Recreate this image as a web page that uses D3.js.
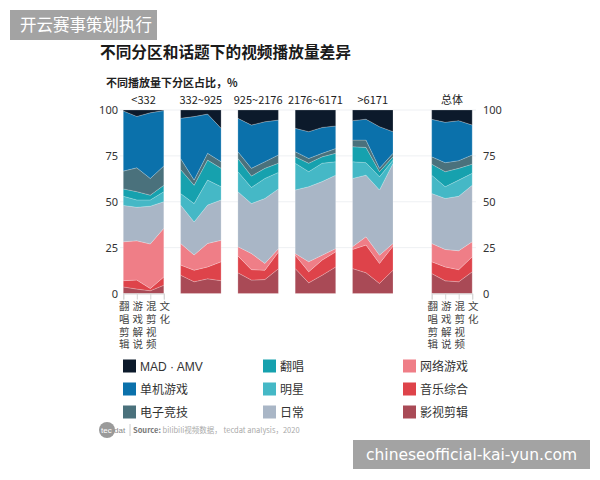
<!DOCTYPE html>
<html>
<head>
<meta charset="utf-8">
<script src="https://cdn.jsdelivr.net/npm/d3@7"></script>
<style>
  body { margin: 0; background: #fff; }
  text { font-family: "Noto Sans CJK SC", "Noto Sans", sans-serif; }
</style>
</head>
<body>
<div id="chart"></div>
<script>
// series, bottom to top
const seriesNames = ["影视剪辑", "音乐综合", "网络游戏", "日常", "明星", "翻唱", "电子竞技", "单机游戏", "MAD · AMV"];
const seriesColors = ["#a94a56", "#de434a", "#ef7e87", "#a9b6c6", "#45b8c6", "#16a1ae", "#4a717c", "#0b71ab", "#0c1a2b"];
const categories = ["翻唱剪辑", "游戏解说", "混剪视频", "文化"];
const panelTitles = ["<332", "332~925", "925~2176", "2176~6171", ">6171", "总体"];
const yTicks = [0, 25, 50, 75, 100];

// each row = one series (bottom to top), columns = categories
const panelLt332 = [
    [3.6, 2.4, 1.5, 4.5],
    [3.4, 4.9, 1.2, 4.5],
    [21.2, 21.4, 24.3, 26.5],
    [19.8, 18.3, 20.6, 14.5],
    [5, 4, 3.4, 5.5],
    [4, 4.5, 2.6, 3.5],
    [9.7, 13, 9.1, 10.5],
    [32.8, 28, 35.8, 30.2],
    [0.5, 3.5, 1.5, 0.3]
];
const panel332 = [
    [10, 6.4, 8, 7],
    [5.5, 6.3, 6.5, 10.3],
    [11.8, 8.3, 12.8, 11.7],
    [20.9, 18, 20.9, 22],
    [6.3, 10, 13.6, 7.2],
    [13.1, 10, 10.9, 10],
    [6, 2.8, 3.7, 3.6],
    [21.9, 34.6, 21.4, 18.2],
    [4.5, 3.6, 2.2, 10]
];
const panel925 = [
    [11.3, 7.3, 7.6, 13.5],
    [9.2, 5.7, 5.1, 9.1],
    [5, 8.8, 3.7, 1.8],
    [30, 27.2, 35.4, 32.6],
    [10.9, 8.8, 10.9, 9],
    [7.2, 6.2, 5.5, 5],
    [3.7, 4.2, 3.6, 4.5],
    [18.2, 23.6, 21.8, 19],
    [4.5, 8.2, 6.4, 5.5]
];
const panel2176 = [
    [13.6, 5.8, 10, 14.5],
    [7.3, 6, 8.2, 8.2],
    [0.9, 5.5, 2.7, 1.8],
    [34.6, 40.9, 40.1, 40],
    [14.6, 8.2, 10, 7.3],
    [3.5, 4.6, 3.5, 4.6],
    [2.8, 2.6, 1.9, 2.6],
    [12.7, 14.6, 14.1, 12.3],
    [10, 11.8, 9.5, 8.7]
];
const panelGt6171 = [
    [13.6, 11.3, 5.5, 12.7],
    [10.4, 15.1, 10.9, 13.1],
    [1.5, 4.5, 4.5, 1.5],
    [37.2, 33.6, 35.5, 43.6],
    [9.1, 6.8, 7.2, 1.8],
    [8.2, 8.3, 2.8, 1.8],
    [3.6, 4, 1.8, 1.9],
    [10.6, 11.4, 22.7, 11.8],
    [5.8, 5, 9.1, 11.8]
];
const panelTotal = [
    [10.9, 6.9, 6.4, 11.8],
    [6.4, 7.6, 6.6, 8.2],
    [10, 9.5, 10.3, 8.2],
    [27.2, 27.8, 29.7, 30.8],
    [10, 6.4, 8.8, 6.5],
    [6, 8.2, 6.4, 5],
    [4, 4.9, 4.2, 5],
    [20.4, 22, 21.8, 16.3],
    [5.1, 6.7, 5.8, 8.2]
];
const panels = [panelLt332, panel332, panel925, panel2176, panelGt6171, panelTotal];

const width = 600, height = 480;
const svg = d3.select("#chart").append("svg")
    .attr("width", width)
    .attr("height", height);

// layout
const panelLeft = [123.3, 180.6, 237.9, 295.2, 352.5, 431.7];
const panelWidth = 40.5;
const y = d3.scaleLinear().domain([0, 100]).range([293.5, 110]);

// title + subtitle
svg.append("text")
    .attr("x", 100).attr("y", 58)
    .attr("font-size", 15.7).attr("font-weight", 600).attr("fill", "#1a1a1a")
    .text("不同分区和话题下的视频播放量差异");
svg.append("text")
    .attr("x", 106).attr("y", 87)
    .attr("font-size", 11).attr("font-weight", "bold").attr("fill", "#222")
    .text("不同播放量下分区占比，%");

// faint gridlines
svg.append("g").selectAll("line")
    .data(yTicks.slice(1))
    .enter().append("line")
    .attr("x1", 120).attr("x2", 476)
    .attr("y1", d => y(d)).attr("y2", d => y(d))
    .attr("stroke", "#eef0f3").attr("stroke-width", 1);

// y axes
const yLeft = svg.append("g")
    .attr("transform", "translate(118,0)")
    .call(d3.axisLeft(y).tickValues(yTicks).tickSize(0).tickPadding(0));
const yRight = svg.append("g")
    .attr("transform", "translate(483,0)")
    .call(d3.axisRight(y).tickValues(yTicks).tickSize(0).tickPadding(0));
[yLeft, yRight].forEach(g => {
    g.select(".domain").remove();
    g.selectAll("text")
        .attr("font-size", 11)
        .attr("fill", "#333")
        .style("font-family", "'Noto Sans', sans-serif");
});

const stack = d3.stack().keys(d3.range(seriesNames.length));

panels.forEach((rows, p) => {
    const x = d3.scalePoint()
        .domain(categories)
        .range([panelLeft[p], panelLeft[p] + panelWidth]);

    const table = categories.map((c, i) => {
        const o = {cat: c};
        rows.forEach((r, s) => { o[s] = r[i]; });
        return o;
    });
    const stacked = stack(table);

    const area = d3.area()
        .x(d => x(d.data.cat))
        .y0(d => y(d[0]))
        .y1(d => y(d[1]));

    svg.append("g").selectAll("path")
        .data(stacked)
        .enter().append("path")
        .attr("d", area)
        .attr("fill", (d, i) => seriesColors[i])
        .attr("stroke", "rgba(255,255,255,0.35)")
        .attr("stroke-width", 0.6);

    // panel header
    svg.append("text")
        .attr("x", panelLeft[p] + panelWidth / 2)
        .attr("y", 104)
        .attr("text-anchor", "middle")
        .attr("font-size", 11)
        .attr("fill", "#222")
        .text(panelTitles[p]);

    // bottom axis with vertical labels for first and total panel
    if (p === 0 || p === 5) {
        const ax = svg.append("g")
            .attr("transform", `translate(0,${y(0)})`)
            .call(d3.axisBottom(x).tickSize(6).tickFormat(""));
        ax.select(".domain").attr("stroke", "#d5d5d5");
        ax.selectAll(".tick line").attr("stroke", "#d5d5d5");

        // vertical (top to bottom) labels
        svg.append("g").selectAll("text")
            .data(categories)
            .enter().append("text")
            .attr("x", c => x(c) + 1)
            .attr("y", 301)
            .style("writing-mode", "vertical-rl")
            .style("letter-spacing", "2.2px")
            .attr("font-size", 10.5)
            .attr("fill", "#444")
            .text(c => c);
    }
});

// legend (top to bottom order of stack)
const legendOrder = [
    ["MAD · AMV", "单机游戏", "电子竞技"],
    ["翻唱", "明星", "日常"],
    ["网络游戏", "音乐综合", "影视剪辑"]
];
const legendX = [123, 263, 403];
const legendY = [366, 389, 412];
legendOrder.forEach((col, ci) => {
    col.forEach((name, ri) => {
        const s = seriesNames.indexOf(name);
        const g = svg.append("g")
            .attr("transform", `translate(${legendX[ci]},${legendY[ri]})`);
        g.append("rect")
            .attr("x", 0).attr("y", -6.5)
            .attr("width", 13).attr("height", 13)
            .attr("fill", seriesColors[s]);
        const t = g.append("text")
            .attr("x", 17).attr("y", 4.5)
            .attr("font-size", 12)
            .attr("fill", "#333")
            .text(name);
        if (name.startsWith("MAD")) t.style("font-family", "'Liberation Sans', sans-serif");
    });
});

// source line with logo
svg.append("circle")
    .attr("cx", 107).attr("cy", 430).attr("r", 8)
    .attr("fill", "#9a9a9a");
svg.append("text")
    .attr("x", 101).attr("y", 433)
    .attr("font-size", 8).attr("fill", "#fff")
    .style("font-family", "'Liberation Sans', sans-serif")
    .text("tec");
svg.append("text")
    .attr("x", 114).attr("y", 433)
    .attr("font-size", 8).attr("fill", "#888")
    .style("font-family", "'Liberation Sans', sans-serif")
    .text("dat");
svg.append("line")
    .attr("x1", 130).attr("x2", 130)
    .attr("y1", 424).attr("y2", 436)
    .attr("stroke", "#ccc");
const src = svg.append("text")
    .attr("x", 133).attr("y", 433)
    .attr("font-size", 7.5).attr("fill", "#aaa");
src.append("tspan").attr("fill", "#777").attr("font-weight", "bold").text("Source: ");
src.append("tspan").text("bilibili视频数据， tecdat analysis，2020");

// watermarks
svg.append("rect")
    .attr("x", 10).attr("y", 10).attr("width", 147).attr("height", 30)
    .attr("fill", "#a3a3a3");
svg.append("text")
    .attr("x", 20).attr("y", 31)
    .attr("font-size", 16.5).attr("fill", "#fff")
    .text("开云赛事策划执行");
svg.append("rect")
    .attr("x", 353).attr("y", 440).attr("width", 237).attr("height", 29)
    .attr("fill", "#a3a3a3");
svg.append("text")
    .attr("x", 471.5).attr("y", 460)
    .attr("text-anchor", "middle")
    .attr("font-size", 15.5).attr("fill", "#fff")
    .style("font-family", "'DejaVu Sans', sans-serif")
    .text("chineseofficial-kai-yun.com");
</script>
</body>
</html>
